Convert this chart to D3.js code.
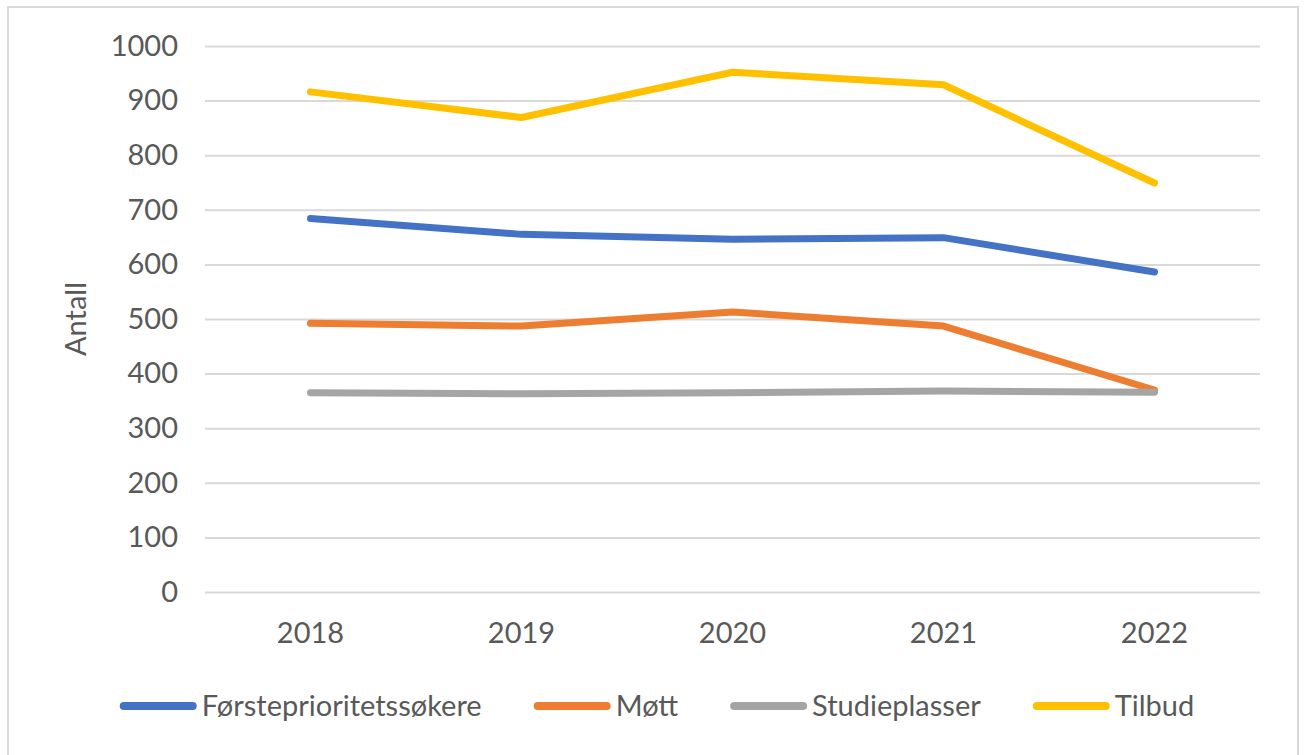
<!DOCTYPE html>
<html>
<head>
<meta charset="utf-8">
<script src="https://cdn.jsdelivr.net/npm/d3@7"></script>
<style>
  html, body { margin: 0; padding: 0; background: #fff; }
  svg { display: block; }
  text { font-family: Lato, "Open Sans", sans-serif; fill: #595959; }
</style>
</head>
<body>
<svg id="chart" width="1306" height="755"></svg>
<script>
const categories = ["2018", "2019", "2020", "2021", "2022"];
const seriesNames = ["Førsteprioritetssøkere", "Møtt", "Studieplasser", "Tilbud"];
const forsteprioritet = [684, 655, 646, 649, 586];
const mott = [492, 487, 513, 487, 370];
const studieplasser = [365, 363, 365, 368, 366];
const tilbud = [916, 869, 952, 929, 749];
const yTicks = [0, 100, 200, 300, 400, 500, 600, 700, 800, 900, 1000];
const colors = ["#4472C4", "#ED7D31", "#A5A5A5", "#FFC000"];
const yTitle = "Antall";

const seriesValues = [forsteprioritet, mott, studieplasser, tilbud];

const svg = d3.select("#chart");
const plot = { left: 205, right: 1260, top: 46, bottom: 592 };
const fontSize = 29;

// outer border
svg.append("rect")
  .attr("x", 8).attr("y", 7)
  .attr("width", 1290).attr("height", 760)
  .attr("fill", "#fff")
  .attr("stroke", "#d9d9d9").attr("stroke-width", 2);

const x = d3.scaleBand().domain(categories).range([plot.left, plot.right]);
const y = d3.scaleLinear().domain([0, 1000]).range([plot.bottom, plot.top]);

// gridlines + y tick labels
const yAxis = d3.axisLeft(y).tickValues(yTicks).tickFormat(d3.format("d"))
  .tickSize(-(plot.right - plot.left)).tickPadding(27);
const gy = svg.append("g").attr("transform", `translate(${plot.left},0)`).call(yAxis);
gy.select(".domain").remove();
gy.selectAll(".tick line").attr("stroke", "#d9d9d9").attr("stroke-width", 2);
gy.selectAll(".tick text")
  .attr("font-size", fontSize)
  .attr("fill", "#595959")
  .style("font-family", "Lato, 'Open Sans', sans-serif");

// x axis labels
const xAxis = d3.axisBottom(x).tickSize(0).tickPadding(30);
const gx = svg.append("g").attr("transform", `translate(0,${plot.bottom})`).call(xAxis);
gx.select(".domain").remove();
gx.selectAll(".tick text")
  .attr("font-size", fontSize)
  .attr("fill", "#595959")
  .style("font-family", "Lato, 'Open Sans', sans-serif");

// y axis title
svg.append("text")
  .attr("transform", `translate(86,${(plot.top + plot.bottom) / 2}) rotate(-90)`)
  .attr("text-anchor", "middle")
  .attr("font-size", fontSize)
  .text(yTitle);

// lines
const line = d3.line()
  .x((d, i) => x(categories[i]) + x.bandwidth() / 2)
  .y(d => y(d));

seriesValues.forEach((vals, k) => {
  svg.append("path")
    .datum(vals)
    .attr("d", line)
    .attr("fill", "none")
    .attr("stroke", colors[k])
    .attr("stroke-width", 7)
    .attr("stroke-linecap", "round")
    .attr("stroke-linejoin", "round");
});

// legend
const legendY = 706;
const gap = 52;
const lg = svg.append("g");
let cursor = 0;
seriesNames.forEach((name, k) => {
  const g = lg.append("g");
  g.append("line")
    .attr("x1", cursor + 4).attr("x2", cursor + 73)
    .attr("y1", 0).attr("y2", 0)
    .attr("stroke", colors[k]).attr("stroke-width", 8)
    .attr("stroke-linecap", "round");
  const t = g.append("text")
    .attr("x", cursor + 82)
    .attr("y", 0)
    .attr("dy", "0.35em")
    .attr("font-size", fontSize)
    .text(name);
  const w = t.node().getComputedTextLength();
  cursor += 82 + w + gap;
});
const totalW = cursor - gap;
lg.attr("transform", `translate(${657 - totalW / 2},${legendY})`);
</script>
</body>
</html>
